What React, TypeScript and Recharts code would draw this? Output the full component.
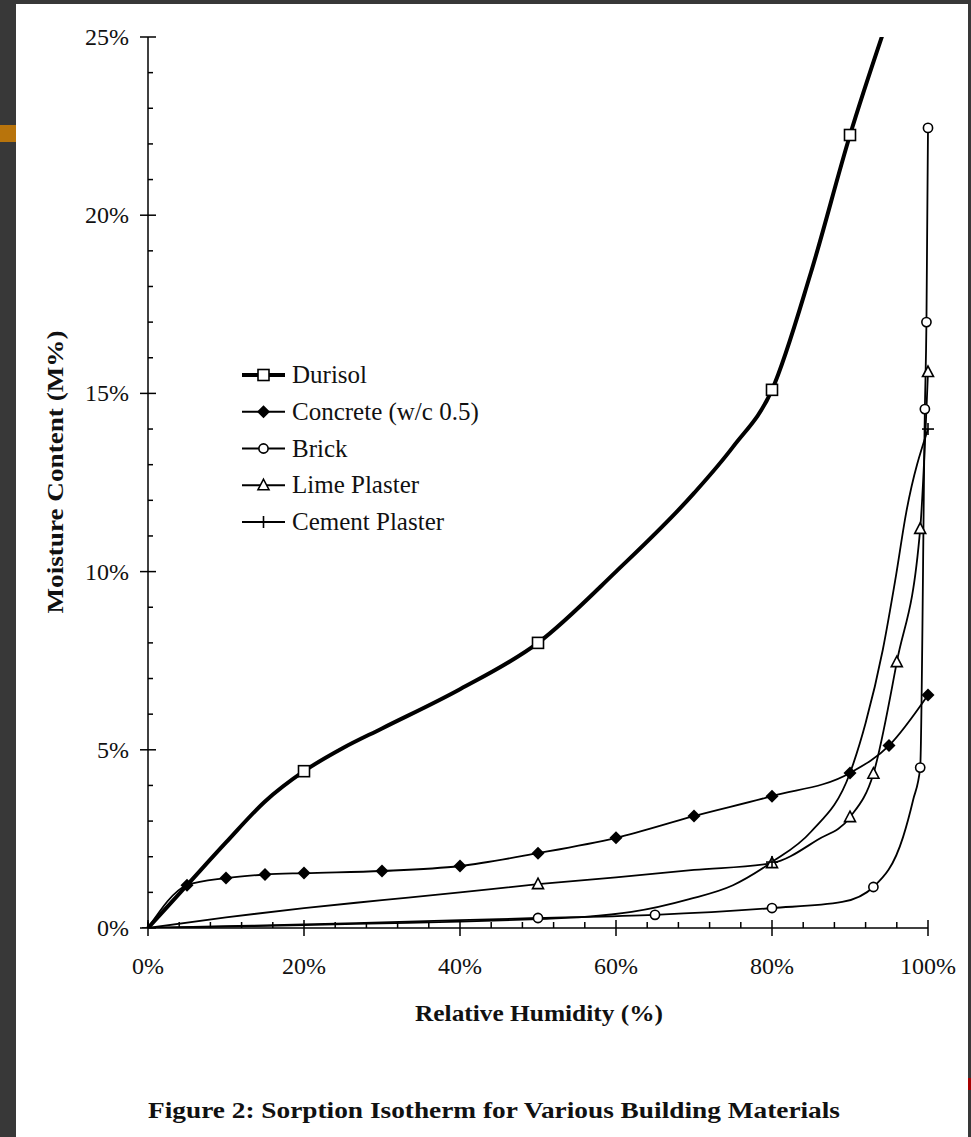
import React from "react";
import { ComposedChart, Legend, Line, Scatter, XAxis, YAxis } from "recharts";

// Sorption isotherms, values (RH %, moisture content M%)

const W = 971;
const H = 1137;
const FONT = "'Liberation Serif', 'Times New Roman', serif";

const xTicks = [0, 4, 8, 12, 16, 20, 24, 28, 32, 36, 40, 44, 48, 52, 56, 60, 64, 68, 72, 76, 80, 84, 88, 92, 96, 100];
const yTicks = [0, 1, 2, 3, 4, 5, 6, 7, 8, 9, 10, 11, 12, 13, 14, 15, 16, 17, 18, 19, 20, 21, 22, 23, 24, 25];

const durisolRH = [0, 5, 10, 15, 20, 25, 30, 40, 50, 60, 70, 75, 80, 85, 90, 95];
const durisolMC = [0, 1.2, 2.4, 3.55, 4.4, 5.05, 5.6, 6.7, 8.0, 10.0, 12.2, 13.5, 15.1, 18.4, 22.25, 25.6];
const durisolMarkRH = [20, 50, 80, 90];

const concreteRH = [0, 5, 10, 15, 20, 30, 40, 50, 60, 70, 80, 90, 95, 100];
const concreteMC = [0, 1.2, 1.4, 1.5, 1.54, 1.6, 1.74, 2.1, 2.53, 3.14, 3.7, 4.35, 5.12, 6.54];
const concreteMarkRH = [5, 10, 15, 20, 30, 40, 50, 60, 70, 80, 90, 95, 100];

const brickRH = [0, 10, 20, 30, 40, 50, 65, 80, 89, 93, 96.8, 98.1, 99, 99.6, 99.8, 100];
const brickMC = [0, 0.05, 0.1, 0.16, 0.22, 0.28, 0.37, 0.56, 0.73, 1.15, 2.55, 3.6, 4.5, 14.56, 17.0, 22.45];
const brickMarkRH = [50, 65, 80, 93, 99, 99.6, 99.8, 100];

const limeRH = [0, 10, 20, 30, 40, 50, 60, 70, 80, 85.8, 90, 93, 96, 99, 100];
const limeMC = [0, 0.3, 0.56, 0.78, 1.0, 1.23, 1.42, 1.63, 1.82, 2.47, 3.11, 4.33, 7.46, 11.2, 15.6];
const limeMarkRH = [50, 80, 90, 93, 96, 99, 100];

const cementRH = [0, 10, 20, 30, 40, 50, 56, 62, 69.4, 75, 80, 85, 90, 92, 94.2, 95.8, 97.2, 100];
const cementMC = [0, 0.04, 0.08, 0.13, 0.18, 0.25, 0.31, 0.45, 0.81, 1.2, 1.85, 2.7, 4.35, 5.75, 7.8, 9.76, 11.65, 14.0];
const cementMarkRH = [0, 80, 100];

type Pt = { x: number; y: number };
type Kind = "square" | "diamond" | "circle" | "triangle" | "plus";

const toPoints = (rh: number[], mc: number[]): Pt[] => rh.map((x, i) => ({ x, y: mc[i] }));
const pick = (pts: Pt[], rh: number[]) => pts.filter((p) => rh.includes(p.x));

const durisol = toPoints(durisolRH, durisolMC);
const concrete = toPoints(concreteRH, concreteMC);
const brick = toPoints(brickRH, brickMC);
const lime = toPoints(limeRH, limeMC);
const cement = toPoints(cementRH, cementMC);

const series: { name: string; curve: Pt[]; marks: Pt[]; marker: Kind; width: number }[] = [
  { name: "Durisol", curve: durisol, marks: pick(durisol, durisolMarkRH), marker: "square", width: 4 },
  { name: "Concrete (w/c 0.5)", curve: concrete, marks: pick(concrete, concreteMarkRH), marker: "diamond", width: 1.8 },
  { name: "Brick", curve: brick, marks: pick(brick, brickMarkRH), marker: "circle", width: 1.8 },
  { name: "Lime Plaster", curve: lime, marks: pick(lime, limeMarkRH), marker: "triangle", width: 1.8 },
  { name: "Cement Plaster", curve: cement, marks: pick(cement, cementMarkRH), marker: "plus", width: 1.8 },
];

function Marker({ kind, cx, cy }: { kind: Kind; cx: number; cy: number }) {
  if (cx == null || cy == null) return null;
  switch (kind) {
    case "square":
      return <rect x={cx - 5.5} y={cy - 5.5} width={11} height={11} fill="#fff" stroke="#000" strokeWidth={1.6} />;
    case "diamond":
      return <path d={`M${cx},${cy - 6.5}L${cx + 6.5},${cy}L${cx},${cy + 6.5}L${cx - 6.5},${cy}Z`} fill="#000" />;
    case "circle":
      return <circle cx={cx} cy={cy} r={4.6} fill="#fff" stroke="#000" strokeWidth={1.6} />;
    case "triangle":
      return (
        <path d={`M${cx},${cy - 6}L${cx + 5.5},${cy + 4.5}L${cx - 5.5},${cy + 4.5}Z`} fill="#fff" stroke="#000" strokeWidth={1.6} />
      );
    default:
      return (
        <g stroke="#000" strokeWidth={1.6}>
          <line x1={cx - 6} x2={cx + 6} y1={cy} y2={cy} />
          <line x1={cx} x2={cx} y1={cy - 6} y2={cy + 6} />
        </g>
      );
  }
}

function YTick(props: any) {
  const { x, y, payload } = props;
  const major = payload.value % 5 === 0;
  return (
    <g>
      <line x1={major ? x - 8 : x} x2={major ? x + 8 : x + 5} y1={y} y2={y} stroke="#000" strokeWidth={1.5} />
      {major && (
        <text x={x - 19} y={y + 8} textAnchor="end" fontFamily={FONT} fontSize={24} fill="#111">
          {payload.value}%
        </text>
      )}
    </g>
  );
}

function XTick(props: any) {
  const { x, y, payload } = props;
  const major = payload.value % 20 === 0;
  return (
    <g>
      <line x1={x} x2={x} y1={y - (major ? 8 : 6)} y2={major ? y + 8 : y} stroke="#000" strokeWidth={1.5} />
      {major && (
        <text x={x} y={y + 46} textAnchor="middle" fontFamily={FONT} fontSize={24} fill="#111">
          {payload.value}%
        </text>
      )}
    </g>
  );
}

function LegendBox() {
  return (
    <svg width={270} height={190} style={{ display: "block" }}>
      {series.map((s, i) => {
        const cy = 25 + i * 36.75;
        return (
          <g key={s.name}>
            <line x1={6} x2={49} y1={cy} y2={cy} stroke="#000" strokeWidth={s.width} />
            <Marker kind={s.marker} cx={27.5} cy={cy} />
            <text x={56} y={cy + 8} fontFamily={FONT} fontSize={25} fill="#111">
              {s.name}
            </text>
          </g>
        );
      })}
    </svg>
  );
}

export default function App() {
  return (
    <div style={{ position: "absolute", left: 0, top: 0, width: W, height: H, background: "#383838", overflow: "hidden" }}>
      <div style={{ position: "absolute", left: 16, top: 4, width: 952, height: H - 4, background: "#fff" }} />
      <div style={{ position: "absolute", left: 0, top: 125, width: 16, height: 17, background: "#b8740c" }} />
      <div style={{ position: "absolute", left: 968, top: 1078, width: 3, height: 12, background: "#a40000" }} />
      <div style={{ position: "absolute", left: 0, top: 0 }}>
        <ComposedChart width={W} height={H} margin={{ top: 37, right: 43, bottom: 149, left: 48 }}>
          <XAxis
            type="number"
            dataKey="x"
            domain={[0, 100]}
            ticks={xTicks}
            interval={0}
            height={60}
            tickSize={0}
            tickMargin={0}
            tickLine={false}
            axisLine={{ stroke: "#000", strokeWidth: 1.5 }}
            tick={<XTick />}
          />
          <YAxis
            type="number"
            domain={[0, 25]}
            ticks={yTicks}
            interval={0}
            allowDataOverflow
            width={100}
            tickSize={0}
            tickMargin={0}
            tickLine={false}
            axisLine={{ stroke: "#000", strokeWidth: 1.5 }}
            tick={<YTick />}
          />
          {series.flatMap((s) => [
            <Line
              key={s.name + "-line"}
              data={s.curve}
              dataKey="y"
              type="monotone"
              stroke="#000"
              strokeWidth={s.width}
              strokeLinejoin="round"
              dot={false}
              activeDot={false}
              legendType="none"
              isAnimationActive={false}
            />,
            <Scatter
              key={s.name + "-marks"}
              data={s.marks}
              dataKey="y"
              legendType="none"
              isAnimationActive={false}
              shape={(p: any) => <Marker kind={s.marker} cx={p.cx} cy={p.cy} />}
            />,
          ])}
          <Legend
            layout="vertical"
            align="center"
            verticalAlign="middle"
            wrapperStyle={{ left: 236, top: 350, width: 270, height: 190 }}
            content={() => <LegendBox />}
          />
        </ComposedChart>
      </div>
      <svg width={W} height={H} style={{ position: "absolute", left: 0, top: 0, pointerEvents: "none" }}>
        <text
          x={63}
          y={472}
          transform="rotate(-90 63 472)"
          textAnchor="middle"
          fontFamily={FONT}
          fontWeight="bold"
          fontSize={24}
          textLength={283}
          lengthAdjust="spacingAndGlyphs"
          fill="#111"
        >
          Moisture Content (M%)
        </text>
        <text
          x={539}
          y={1021}
          textAnchor="middle"
          fontFamily={FONT}
          fontWeight="bold"
          fontSize={24}
          textLength={248}
          lengthAdjust="spacingAndGlyphs"
          fill="#111"
        >
          Relative Humidity (%)
        </text>
        <text
          x={494}
          y={1118}
          textAnchor="middle"
          fontFamily={FONT}
          fontWeight="bold"
          fontSize={24}
          textLength={692}
          lengthAdjust="spacingAndGlyphs"
          fill="#111"
        >
          Figure 2: Sorption Isotherm for Various Building Materials
        </text>
      </svg>
    </div>
  );
}
